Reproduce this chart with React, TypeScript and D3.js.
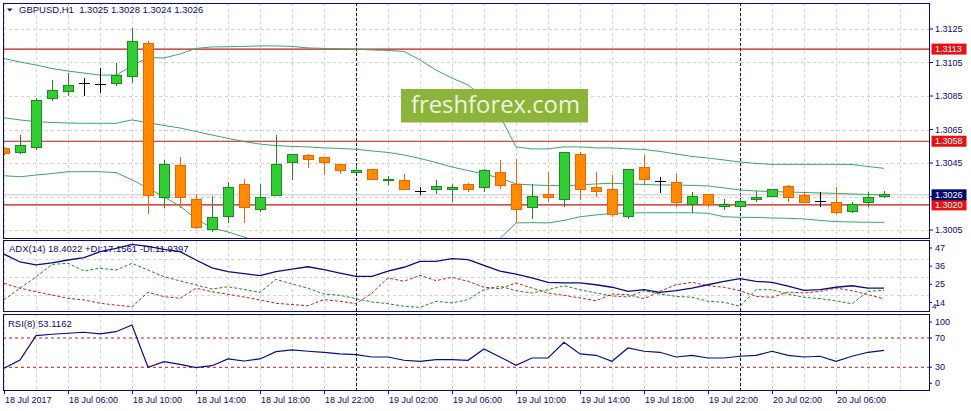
import React from "react";
import * as d3 from "d3";

// ---------- DATA ----------
const openP = [1.30538,1.30514,1.30544,1.30836,1.30878,1.30926,1.30916,1.30926,1.30965,1.31165,1.30245,1.30438,1.30233,1.30054,1.30129,1.30319,1.30174,1.30253,1.30454,1.30496,1.30484,1.30442,1.30394,1.30412,1.30344,1.30347,1.30281,1.30293,1.30293,1.30319,1.30305,1.30394,1.30323,1.30186,1.30263,1.30233,1.30502,1.30305,1.30293,1.30132,1.30424,1.30341,1.30335,1.30203,1.30263,1.30189,1.30189,1.30231,1.30251,1.30307,1.30255,1.30223,1.30215,1.30159,1.30213,1.3025];
const highP = [1.30546,1.30617,1.30836,1.30946,1.30986,1.30956,1.31015,1.31045,1.31254,1.31178,1.30468,1.30486,1.30265,1.30255,1.30337,1.30353,1.30325,1.30615,1.30502,1.30504,1.30484,1.30442,1.30438,1.30412,1.30372,1.30384,1.30309,1.30349,1.30325,1.30332,1.30412,1.30468,1.30476,1.30323,1.30394,1.30511,1.30516,1.30394,1.30377,1.30412,1.30496,1.30368,1.30383,1.30275,1.30263,1.30233,1.30233,1.30283,1.30293,1.30319,1.30279,1.30275,1.30309,1.30219,1.30275,1.3028];
const lowP = [1.30498,1.30502,1.30528,1.30822,1.30852,1.30852,1.30866,1.30911,1.30926,1.30144,1.30183,1.30183,1.30054,1.3004,1.30094,1.30094,1.30159,1.30253,1.30349,1.30422,1.30378,1.30383,1.30389,1.30353,1.30317,1.30293,1.30259,1.30263,1.30219,1.30279,1.30279,1.30293,1.30094,1.30114,1.30215,1.30189,1.30229,1.30245,1.30129,1.30114,1.30323,1.30273,1.30189,1.30153,1.30189,1.30169,1.30169,1.30219,1.30251,1.30219,1.30215,1.30189,1.30144,1.30153,1.30189,1.3024];
const closeP = [1.30504,1.30553,1.30824,1.30884,1.30914,1.30926,1.30916,1.30974,1.31174,1.30253,1.30442,1.30245,1.30066,1.30126,1.30305,1.30186,1.30245,1.30442,1.30502,1.30472,1.30454,1.30406,1.30406,1.30353,1.30354,1.30293,1.30281,1.30307,1.30305,1.30293,1.30406,1.30317,1.30174,1.30251,1.30245,1.30511,1.30293,1.30281,1.30144,1.30412,1.30353,1.30341,1.30213,1.30251,1.30203,1.30205,1.30219,1.30245,1.30293,1.30245,1.30215,1.30223,1.30153,1.30203,1.30245,1.3026];

const bbUpper = [1.31074,1.31053,1.31035,1.31014,1.30999,1.30987,1.30975,1.30975,1.31029,1.3108,1.31077,1.31101,1.31134,1.31143,1.31144,1.31146,1.31149,1.31149,1.31146,1.31137,1.31134,1.31131,1.31129,1.31125,1.31122,1.31116,1.31065,1.31005,1.30957,1.30916,1.30838,1.30731,1.30546,1.30534,1.30534,1.30546,1.30546,1.3054,1.3054,1.30534,1.30531,1.30519,1.30504,1.30489,1.3048,1.30468,1.30456,1.30447,1.30442,1.30442,1.30442,1.30442,1.30442,1.30441,1.30429,1.30418];
const bbMiddle = [1.3072,1.30707,1.30697,1.30692,1.30689,1.30687,1.30687,1.30687,1.30707,1.30691,1.30674,1.30659,1.30638,1.30617,1.30597,1.30578,1.30563,1.30554,1.30549,1.30546,1.3054,1.30537,1.30532,1.30522,1.30513,1.30498,1.30477,1.30453,1.30426,1.30405,1.30384,1.3036,1.30325,1.30319,1.30316,1.30314,1.30319,1.30325,1.30329,1.30325,1.30322,1.30319,1.30319,1.30316,1.30313,1.30301,1.30289,1.30283,1.30279,1.30277,1.30274,1.30271,1.30269,1.30265,1.30262,1.30259];
const bbLower = [1.30374,1.30368,1.30378,1.30387,1.30398,1.30398,1.30398,1.30393,1.30349,1.30301,1.30247,1.30193,1.30116,1.30062,1.30038,1.30008,1.29978,1.29954,1.29943,1.29931,1.29925,1.29919,1.29919,1.29925,1.29925,1.29931,1.29937,1.29949,1.2996,1.29972,1.29984,1.29999,1.30092,1.30094,1.30092,1.30107,1.30129,1.3014,1.30149,1.30151,1.30153,1.30153,1.30153,1.30153,1.3015,1.30129,1.30126,1.30125,1.30122,1.3012,1.30116,1.30107,1.301,1.30098,1.30096,1.30096];

const adx = [39.1,34.3,32.5,33.7,35.5,36.9,40.5,42.6,45.0,43.7,41.9,40.6,35.5,30.7,28.5,27.3,26.0,28.4,30.0,31.4,29.6,27.6,25.6,25.6,28.7,31.1,34.7,34.7,36.3,35.7,32.3,28.7,27.0,24.6,22.0,21.6,21.6,20.5,19.0,16.5,17.5,15.9,16.9,18.5,20.5,22.6,24.2,22.6,22.0,19.6,17.1,17.5,19.0,19.9,18.5,18.4];
const plusDI = [11.3,18.5,25.2,32.8,33.5,28.8,30.5,29.4,33.5,29.4,25.4,22.8,20.4,17.9,19.3,17.6,15.9,23.8,21.0,18.4,14.9,14.1,12.1,10.1,9.0,7.5,6.8,10.5,9.5,11.5,17.5,19.6,16.9,15.5,17.5,19.9,17.5,15.5,13.7,13.1,16.9,14.9,13.5,12.9,10.5,9.9,7.5,17.5,17.5,14.9,12.9,12.1,10.8,9.0,16.5,17.16];
const minusDI = [21.4,18.4,16.3,14.3,12.3,11.3,9.3,8.2,7.2,15.9,13.3,12.3,18.4,16.3,14.7,13.1,11.3,9.3,8.5,7.8,11.5,10.5,9.0,15.5,24.6,22.6,26.2,23.0,25.0,22.6,19.0,18.1,21.6,18.5,15.5,14.1,12.5,10.8,14.9,14.5,12.1,16.5,20.5,22.0,19.9,19.0,16.9,13.5,12.9,16.1,15.5,16.5,18.5,16.9,14.5,11.94];
const rsi = [28.7,40.0,73.2,75.1,76.5,77.8,75.5,78.6,87.8,30.0,37.7,34.1,29.5,32.2,41.4,38.6,41.4,51.3,53.7,51.9,50.5,48.2,47.2,44.1,44.1,39.6,38.2,40.4,40.4,39.6,55.0,44.1,32.8,42.7,42.7,64.2,48.2,46.4,38.2,56.4,51.9,50.5,44.1,46.4,42.7,42.7,45.1,46.4,51.9,46.4,44.1,45.1,38.2,45.1,50.5,53.1];

const timeTicks: [number, string][] = [
  [0, "18 Jul 2017"], [4, "18 Jul 06:00"], [8, "18 Jul 10:00"], [12, "18 Jul 14:00"],
  [16, "18 Jul 18:00"], [20, "18 Jul 22:00"], [24, "19 Jul 02:00"], [28, "19 Jul 06:00"],
  [32, "19 Jul 10:00"], [36, "19 Jul 14:00"], [40, "19 Jul 18:00"], [44, "19 Jul 22:00"],
  [48, "20 Jul 02:00"], [52, "20 Jul 06:00"],
];
const daySeparators = [22, 46];
const priceTicks = [1.3125, 1.3105, 1.3085, 1.3065, 1.3045, 1.3025, 1.3005];
const redLevels = [1.3113, 1.3058, 1.302];
const bidPrice = 1.3026;
const adxTicks = [47, 36, 25, 14];
const adxMin = 4;
const rsiTicks = [100, 70, 30, 0];
const rsiLevels = [70, 30];

// ---------- LAYOUT ----------
const W = 971, H = 411;
const L = 3, R = 929;
const mainTop = 3, mainBot = 238;
const adxTop = 241, adxBot = 312;
const rsiTop = 314, rsiBot = 390;
const navy = "#0a0a78";
const font = "'Liberation Sans', Arial, sans-serif";

const n = closeP.length;
const x = d3.scaleLinear().domain([0, n - 1]).range([4, 4 + 16 * (n - 1)]);
const py = d3.scaleLinear().domain([1.3005, 1.3125]).range([230, 29]);
const ay = d3.scaleLinear().domain([adxMin, 47]).range([adxBot, adxTop]);
const ry = d3.scaleLinear().domain([0, 100]).range([389.3, 316]);

const idx = d3.range(n);
const gridIdx = d3.range(0, n + 2, 2).filter((i) => x(i) < R);

function lineOf(vals: number[], yScale: (v: number) => number) {
  return d3.line<number>().x((i) => x(i)).y((i) => yScale(vals[i]))(idx) || "";
}

export default function App() {
  const bull = { fill: "#32cd32", stroke: "#1f8a1f" };
  const bear = { fill: "#ff8c00", stroke: "#f0620a" };
  return (
    <svg width={W} height={H} style={{ position: "fixed", left: 0, top: 0, background: "#fff" }} fontFamily={font}>
      <defs>
        <clipPath id="mainClip"><rect x={L} y={mainTop} width={R - L} height={mainBot - mainTop} /></clipPath>
        <clipPath id="adxClip"><rect x={L} y={adxTop} width={R - L} height={adxBot - adxTop} /></clipPath>
        <clipPath id="rsiClip"><rect x={L} y={rsiTop} width={R - L} height={rsiBot - rsiTop} /></clipPath>
      </defs>
      <rect x={0} y={0} width={W} height={H} fill="#fff" />

      {/* grid */}
      <g stroke="#d2d2d2" strokeDasharray="3,3" shapeRendering="crispEdges">
        {gridIdx.map((i) => (
          <g key={"vg" + i}>
            <line x1={x(i) + 0.5} x2={x(i) + 0.5} y1={mainTop} y2={mainBot} />
            <line x1={x(i) + 0.5} x2={x(i) + 0.5} y1={adxTop} y2={adxBot} />
            <line x1={x(i) + 0.5} x2={x(i) + 0.5} y1={rsiTop} y2={rsiBot} />
          </g>
        ))}
        {priceTicks.map((p) => (
          <line key={"hg" + p} x1={L} x2={R} y1={Math.round(py(p)) + 0.5} y2={Math.round(py(p)) + 0.5} />
        ))}
        {adxTicks.slice(1).map((v) => (
          <line key={"ag" + v} x1={L} x2={R} y1={Math.round(ay(v)) + 0.5} y2={Math.round(ay(v)) + 0.5} />
        ))}
      </g>

      {/* day separators */}
      <g stroke={navy} strokeDasharray="3,2" shapeRendering="crispEdges">
        {daySeparators.map((i) => (
          <line key={"sep" + i} x1={x(i) + 0.5} x2={x(i) + 0.5} y1={mainTop} y2={rsiBot} />
        ))}
      </g>

      {/* price levels */}
      <line x1={L} x2={R} y1={py(bidPrice)} y2={py(bidPrice)} stroke="#c8c8c8" />
      {redLevels.map((p) => (
        <line key={"rl" + p} x1={L} x2={R} y1={py(p)} y2={py(p)} stroke="#c81414" strokeWidth={1.2} />
      ))}

      {/* bands */}
      <g clipPath="url(#mainClip)" fill="none" stroke="#3aa86a" strokeWidth={1}>
        <path d={lineOf(bbUpper, py)} />
        <path d={lineOf(bbMiddle, py)} />
        <path d={lineOf(bbLower, py)} />
      </g>

      {/* watermark */}
      <rect x={401} y={89} width={187} height={33.5} fill="#8db43a" />
      <text x={411} y={113.3} fontFamily="'Open Sans', 'Noto Sans', sans-serif" fontSize={24.5} fill="#eef4df" textLength={169} lengthAdjust="spacingAndGlyphs">freshforex.com</text>

      {/* candles */}
      <g clipPath="url(#mainClip)" shapeRendering="crispEdges">
        {idx.map((i) => {
          const o = openP[i], c = closeP[i], h = highP[i], l = lowP[i];
          const cx = x(i) + 0.5;
          if (Math.abs(o - c) < 1e-9) {
            return (
              <g key={"c" + i} stroke="#000">
                <line x1={cx} x2={cx} y1={py(h)} y2={py(l)} />
                <line x1={cx - 5.5} x2={cx + 5.5} y1={py(o)} y2={py(o)} />
              </g>
            );
          }
          const st = c > o ? bull : bear;
          const top = py(Math.max(o, c)), bot = py(Math.min(o, c));
          return (
            <g key={"c" + i}>
              <line x1={cx} x2={cx} y1={py(h)} y2={py(l)} stroke={st.stroke} />
              <rect x={x(i) - 4.5} y={top} width={10} height={Math.max(1, bot - top)} fill={st.fill} stroke={st.stroke} />
            </g>
          );
        })}
      </g>

      {/* indicator texts */}
      <text x={9} y={252} fontSize={9.5} fill={navy}>ADX(14) 18.4022 +DI:17.1561 -DI:11.9397</text>
      <text x={8} y={327} fontSize={9.5} fill={navy}>RSI(8) 53.1162</text>

      {/* ADX */}
      <g clipPath="url(#adxClip)" fill="none">
        <path d={lineOf(plusDI, ay)} stroke="#1e8c1e" strokeDasharray="3,2" />
        <path d={lineOf(minusDI, ay)} stroke="#c82020" strokeDasharray="3,2" />
        <path d={lineOf(adx, ay)} stroke="#0a0a8c" strokeWidth={1.3} />
      </g>

      {/* RSI */}
      <g clipPath="url(#rsiClip)" fill="none">
        {rsiLevels.map((v) => (
          <line key={"rv" + v} x1={L} x2={R} y1={ry(v)} y2={ry(v)} stroke="#c81414" strokeDasharray="3,3" />
        ))}
        <path d={lineOf(rsi, ry)} stroke="#0a0a8c" strokeWidth={1.2} />
      </g>

      {/* panel borders */}
      <g fill="none" stroke={navy} strokeWidth={1} shapeRendering="crispEdges">
        <rect x={L + 0.5} y={mainTop + 0.5} width={R - L} height={mainBot - mainTop} />
        <rect x={L + 0.5} y={adxTop - 0.5} width={R - L} height={adxBot - adxTop} />
        <rect x={L + 0.5} y={rsiTop + 0.5} width={R - L} height={rsiBot - rsiTop} />
      </g>

      {/* header */}
      <path d="M7,8.5 L12.5,8.5 L9.75,11.5 Z" fill={navy} />
      <text x={19} y={12.5} fontSize={9.5} fill={navy} style={{ whiteSpace: "pre" }}>{"GBPUSD,H1  1.3025 1.3028 1.3024 1.3026"}</text>

      {/* right price axis */}
      <g fontSize={9} fill={navy}>
        {priceTicks.map((p) => (
          <g key={"pt" + p}>
            <line x1={R} x2={R + 4} y1={py(p)} y2={py(p)} stroke={navy} />
            <text x={935} y={py(p)} dy="0.35em">{p.toFixed(4)}</text>
          </g>
        ))}
      </g>
      {redLevels.map((p) => (
        <g key={"rb" + p}>
          <rect x={931.5} y={py(p) - 5.5} width={35} height={11} fill="#e81010" />
          <text x={935} y={py(p)} dy="0.35em" fontSize={9} fill="#fff">{p.toFixed(4)}</text>
        </g>
      ))}
      <rect x={931.5} y={py(bidPrice) - 5.5} width={35} height={11} fill="#000a6e" />
      <text x={935} y={py(bidPrice)} dy="0.35em" fontSize={9} fill="#fff">{bidPrice.toFixed(4)}</text>

      {/* ADX axis */}
      <g fontSize={9} fill={navy}>
        {adxTicks.map((v) => (
          <g key={"at" + v}>
            <line x1={R} x2={R + 3} y1={ay(v) + 7} y2={ay(v) + 7} stroke={navy} />
            <text x={935} y={ay(v) + 7} dy="0.35em">{v}</text>
          </g>
        ))}
        <text x={932} y={ay(adxMin) - 5.5} dy="0.35em" fontSize={8}>{adxMin}</text>
      </g>

      {/* RSI axis */}
      <g fontSize={9} fill={navy}>
        {rsiTicks.map((v) => {
          const off = v === 100 ? 6 : v === 0 ? -6 : 0;
          return (
            <g key={"rt" + v}>
              <line x1={R} x2={R + 3} y1={ry(v) + off} y2={ry(v) + off} stroke={navy} />
              <text x={935} y={ry(v) + off} dy="0.35em">{v}</text>
            </g>
          );
        })}
      </g>

      {/* time axis */}
      <g fontSize={9} fill={navy}>
        {timeTicks.map(([i, label]) => (
          <g key={"tt" + i}>
            <line x1={x(i) + 0.5} x2={x(i) + 0.5} y1={rsiBot} y2={rsiBot + 4} stroke={navy} shapeRendering="crispEdges" />
            <text x={x(i) + 1} y={402.5}>{label}</text>
          </g>
        ))}
      </g>
    </svg>
  );
}
